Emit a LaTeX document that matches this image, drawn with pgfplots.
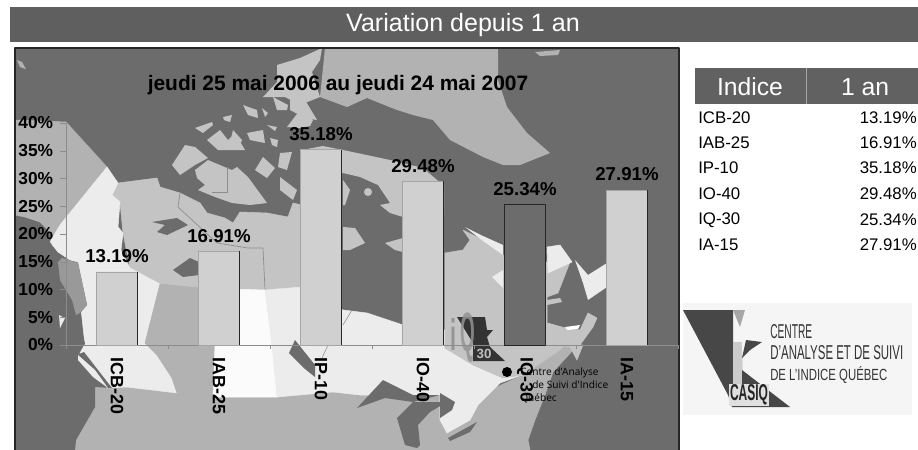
\documentclass[border=0pt]{standalone}
\usepackage{pgfplots}
\pgfplotsset{compat=1.18}
\usepackage{fontspec}
\setmainfont{Liberation Sans}
\newfontfamily\opens{Open Sans}
\definecolor{ocean}{HTML}{6C6C6C}
\definecolor{usa}{HTML}{B2B2B2}
\definecolor{north}{HTML}{C4C4C4}
\definecolor{pale}{HTML}{ECECEC}
\definecolor{snow}{HTML}{FBFBFB}
\definecolor{band}{HTML}{5F5F5F}
\definecolor{barl}{HTML}{D0D0D0}
\definecolor{edge}{HTML}{8C8C8C}
\begin{document}
\begin{tikzpicture}[x=0.75pt,y=-0.75pt,line join=round]
\path[use as bounding box] (0,0) rectangle (918,450);
\fill[white] (0,0) rectangle (918,450);
% title band
\fill[band] (10,7) rectangle (918,42);
\node[text=white,font=\fontsize{18.8}{20}\selectfont] at (463,25) {Variation depuis 1 an};
% map
\begin{scope}
\clip (15,48) rectangle (679,450);
\fill[ocean] (15,48) rectangle (679,450);
\begin{scope}[draw=edge,line width=0.4pt]
% USA
\filldraw[usa] (93,385)--(127,387)--(177,393)--(213,397)--(277,397)--(333,392)--(360,395)--(440,395)--(490,390)--(523,375)--(560,350)--(566,345)--(575,348)--(553,372)--(545,395)--(535,420)--(528,440)--(530,450)--(75,450)--(76,440)--(95,407)--cycle;
% Alaska
\filldraw[usa] (15,120)--(66,122)--(107,167)--(60,225)--(54,236)--(40,222)--(25,217)--(15,215)--cycle;
\fill[usa] (17,60)--(22,62)--(26,69)--(20,67)--cycle;
% northern mainland
\filldraw[north] (118,183)--(157,178)--(160,187)--(180,193)--(200,203)--(207,213)--(225,218)--(233,223)--(240,212)--(267,213)--(288,217)--(293,203)--(302,205)--(302,287)--(265,290)--(199,288)--(160,284)--(130,268)--(123,233)--(120,202)--(112,195)--cycle;
\draw[edge,line width=0.5pt] (180,193)--(178,207)--(217,243)--(248,248)--(263,248)--(265,290);
% Banks and Victoria islands
\fill[north] (172,165)--(185,145)--(195,147)--(208,158)--(195,165)--(180,175)--cycle;
\fill[north] (195,170)--(208,160)--(227,168)--(232,170)--(237,167)--(248,177)--(267,203)--(250,205)--(232,203)--(215,197)--(198,190)--(205,185)--(197,178)--cycle;
\draw[edge,line width=0.5pt] (227,167)--(227,192)--(212,192);
% Arctic archipelago
\fill[north] (263,157)--(275,168)--(267,178)--(255,170)--cycle;
\fill[north] (280,153)--(292,152)--(287,170)--(278,167)--cycle;
\fill[north] (280,177)--(297,190)--(293,200)--(280,190)--cycle;
\fill[north] (195,128)--(212,122)--(213,125)--(203,133)--cycle;
\fill[north] (207,140)--(220,130)--(228,140)--(235,133)--(245,150)--(218,150)--cycle;
\fill[north] (233,130)--(242,140)--(240,145)--(230,143)--cycle;
\fill[north] (247,133)--(263,130)--(265,143)--(250,140)--cycle;
\fill[north] (270,138)--(278,140)--(277,147)--(272,145)--cycle;
\fill[north] (223,117)--(232,115)--(230,122)--(224,120)--cycle;
\fill[north] (243,105)--(257,110)--(258,118)--(248,115)--cycle;
\fill[north] (262,108)--(268,113)--(265,117)--cycle;
\fill[north] (267,125)--(277,127)--(275,131)--cycle;
\fill[north] (273,97)--(288,105)--(287,110)--(277,110)--cycle;
\fill[north] (287,127)--(300,110)--(313,120)--(310,126)--(300,128)--cycle;
\fill[north] (290,97)--(305,100)--(317,120)--(305,118)--(290,110)--cycle;
% Ellesmere
\fill[north] (277,65)--(300,58)--(322,48)--(320,60)--(312,72)--(320,97)--(300,105)--(285,97)--(263,97)--(277,82)--cycle;
% Baffin and neighbours
\fill[north] (302,150)--(323,146)--(343,150)--(390,160)--(423,168)--(437,180)--(444,185)--(444,215)--(403,217)--(390,213)--(380,205)--(390,203)--(378,185)--(360,177)--(343,173)--(320,175)--cycle;
\fill[north] (343,227)--(355,228)--(365,243)--(350,250)--(343,250)--cycle;
\fill[north] (403,238)--(385,243)--(395,250)--(403,252)--cycle;
\fill[north] (343,180)--(350,190)--(345,205)--(343,205)--cycle;
\fill[north] (368,192) circle (4);
% Greenland
\fill[usa] (325,48)--(498,48)--(498,80)--(507,107)--(527,133)--(550,153)--(520,165)--(503,165)--(483,157)--(450,140)--(433,120)--(413,115)--(397,110)--(367,98)--(347,107)--(320,97)--cycle;
\fill[usa] (535,52)--(560,50)--(558,55)--(540,56)--cycle;
% Yukon
\filldraw[pale] (107,167)--(118,183)--(112,195)--(120,202)--(118,227)--(123,233)--(121,250)--(130,268)--(100,268)--(58,252)--(50,242)--(60,225)--cycle;
% BC
\filldraw[pale] (58,252)--(100,268)--(130,268)--(160,284)--(145,343)--(157,355)--(172,378)--(177,393)--(127,387)--(107,388)--(100,375)--(78,352)--(85,345)--(80,300)--(78,262)--(70,260)--cycle;
% Alberta
\filldraw[usa] (160,284)--(199,288)--(215,345)--(213,397)--(177,393)--(172,378)--(157,355)--(145,343)--cycle;
% Saskatchewan
\filldraw[snow] (199,288)--(265,290)--(272,345)--(277,397)--(213,397)--(215,345)--cycle;
% Manitoba & Ontario
\filldraw[pale] (265,290)--(302,287)--(343,310)--(367,313)--(403,325)--(445,330)--(445,348)--(473,365)--(503,378)--(522,375)--(500,383)--(478,405)--(470,420)--(447,433)--(440,420)--(440,395)--(360,395)--(333,392)--(277,397)--(272,345)--cycle;
\draw (328,345)--(322,358);
\draw (343,325)--(352,310);
% Quebec
\filldraw[north] (445,253)--(463,250)--(470,240)--(463,230)--(483,240)--(503,255)--(547,262)--(570,262)--(558,293)--(547,297)--(547,323)--(565,328)--(565,345)--(560,350)--(523,375)--(503,378)--(473,365)--(445,348)--cycle;
\fill[pale] (465,227)--(483,236)--(503,245)--(503,255)--(483,241)--cycle;
\fill[pale] (492,277)--(503,270)--(503,288)--cycle;
% Labrador
\filldraw[pale] (547,247)--(560,245)--(572,262)--(548,273)--cycle;
% Anticosti
\fill[north] (547,300)--(560,298)--(562,302)--(547,305)--cycle;
% Newfoundland
\fill[pale] (575,260)--(588,275)--(607,263)--(607,287)--(588,300)--(583,283)--cycle;
% Maritimes
\filldraw[north] (547,323)--(565,328)--(580,330)--(588,313)--(597,318)--(593,327)--(580,345)--(583,345)--(577,360)--(570,347)--(557,345)--(547,345)--cycle;
\fill[white] (565,327)--(580,325)--(578,329)--(567,330)--cycle;
\end{scope}
% lakes
\fill[ocean] (152,222)--(177,218)--(188,225)--(167,235)--(157,232)--(165,225)--cycle;
\fill[ocean] (173,270)--(190,258)--(199,262)--(199,275)--(183,277)--cycle;
\fill[ocean] (289,353)--(295,340)--(315,365)--(315,377)--(305,369)--cycle;
\fill[ocean] (357,408)--(383,380)--(413,395)--(440,395)--(413,402)--(385,398)--cycle;
\fill[ocean] (397,418)--(413,402)--(447,402)--(430,412)--(418,425)--(420,445)--(417,448)--(405,445)--cycle;
\fill[ocean] (440,393)--(455,402)--(452,410)--(440,418)--cycle;
\fill[ocean] (448,438)--(477,422)--(470,432)--(450,441)--cycle;
% west coast
\fill[ocean] (15,217)--(28,220)--(50,242)--(58,257)--(78,263)--(87,305)--(80,313)--(78,323)--(85,343)--(79,354)--(84,352)--(112,388)--(95,387)--(95,407)--(76,440)--(75,450)--(15,450)--cycle;
\fill[black!40] (58,262)--(62,258)--(78,263)--(87,305)--(80,313)--(76,315)--(72,300)--(60,280)--cycle;
\fill[pale] (78,355)--(95,370)--(108,388)--(93,377)--(78,360)--cycle;
\fill[pale] (59,315)--(65,318)--(60,328)--cycle;
% small logo on the map
\node[text=gray!90,opacity=.85] at (453,334) {\resizebox{4.5pt}{24pt}{\bfseries i}};
\fill[black!80] (457,317)--(485,317)--(487,330)--(493,330)--(487,337)--(490,347)--(505,361)--(473,361)--(473,343)--cycle;
\node[text=gray!85,opacity=.85] at (468,338) {\resizebox{11pt}{29pt}{\bfseries Q}};
\node[text=black!25,font=\bfseries\fontsize{10}{10}\selectfont] at (484,354) {30};
\fill[black] (507,372) circle (5);
\node[anchor=west,inner sep=0pt,font=\opens\fontsize{7.6}{8}\selectfont] at (520,373) {Centre d'Analyse};
\node[anchor=west,inner sep=0pt,font=\opens\fontsize{7.6}{8}\selectfont] at (532,385) {de Suivi d'Indice};
\node[anchor=west,inner sep=0pt,font=\opens\fontsize{7.6}{8}\selectfont] at (520,398) {Québec};
\end{scope}
\draw[black!85,line width=1.1pt] (15,450)--(15,48)--(679,48)--(679,450);
% chart
\begin{axis}[
  at={(49.5pt,-258.75pt)},anchor=south west,
  scale only axis,width=459pt,height=166.5pt,
  xmin=-0.5,xmax=5.5,ymin=0,ymax=40,
  clip=false,
  axis lines*=left,
  axis line style={draw=edge,-},
  xtick={0,1,2,3,4,5},
  xticklabels={ICB-20,IAB-25,IP-10,IO-40,IQ-30,IA-15},
  minor xtick={-0.5,0.5,1.5,2.5,3.5,4.5,5.5},
  major x tick style={draw=none},
  minor tick length=3pt,
  minor tick style={draw=edge},
  ytick={0,5,...,40},
  yticklabel={\pgfmathprintnumber{\tick}\%},
  y tick style={draw=edge},
  tick align=outside,
  major tick length=4.5pt,
  /pgf/number format/assume math mode=true,
  tick label style={font=\bfseries\fontsize{13}{13}\selectfont,text=black},
  xticklabel style={font=\bfseries\fontsize{13.4}{13}\selectfont,rotate=-90,anchor=west,inner sep=0pt,xshift=5pt},
  yticklabel style={inner sep=0pt,xshift=-5pt},
  lab/.style={nodes near coords={\pgfmathprintnumber[fixed,fixed zerofill,precision=2]{\pgfplotspointmeta}\%},
    every node near coord/.append style={font=\bfseries\fontsize{14}{14}\selectfont,text=black,inner sep=0pt,yshift=6.5pt}},
]
\addplot[ybar,bar width=0.4,bar shift=0,fill=barl,draw=black!35,lab] coordinates {(0,13.19) (1,16.91) (2,35.18) (3,29.48) (5,27.91)};
\addplot[ybar,bar width=0.4,bar shift=0,fill=ocean,draw=black!85,lab] coordinates {(4,25.34)};
\addplot[ycomb,black!85,line width=0.9pt,mark=none] coordinates {(0.2,13.19) (1.2,16.91) (2.2,35.18) (3.2,29.48) (5.2,27.91)};
\end{axis}
\node[font=\bfseries\fontsize{15.7}{16}\selectfont] at (338,85) {jeudi 25 mai 2006 au jeudi 24 mai 2007};
% table
\fill[ocean!90!black] (695,68) rectangle (918,104);
\draw[gray!70,line width=0.7pt] (806,68)--(806,104);
\node[text=white,font=\fontsize{18.5}{20}\selectfont] at (750,87) {Indice};
\node[text=white,font=\fontsize{18.5}{20}\selectfont] at (865,87) {1 an};
\foreach \n/\v/\y in {ICB-20/13.19/118,IAB-25/16.91/143,IP-10/35.18/168,IO-40/29.48/194,IQ-30/25.34/220,IA-15/27.91/245}{
  \node[anchor=west,inner sep=0pt,font=\fontsize{12.6}{13}\selectfont] at (698,\y) {\n};
  \node[anchor=east,inner sep=0pt,font=\fontsize{12.6}{13}\selectfont] at (917,\y) {\v\%};
}
% logo
\fill[black!4] (683,303) rectangle (912,415);
\fill[black!72] (683,310)--(733,310)--(733,345)--(742,355)--(742,370)--(790,407)--(732,407)--(728,395)--cycle;
\fill[black!20] (733,342) rectangle (742,405);
\fill[black!35] (733,310)--(745,310)--(740,327)--cycle;
\fill[black!72] (746,340)--(762,342)--(750,350)--(742,358)--cycle;
\node[fill=black!12,inner sep=0.5pt,text=black!85] at (749,395) {\resizebox{28.5pt}{12pt}{\bfseries CASIQ}};
\node[anchor=west,inner sep=0pt,text=black!80] at (770,332) {\resizebox{31.5pt}{10.5pt}{CENTRE}};
\node[anchor=west,inner sep=0pt,text=black!80] at (770,353) {\resizebox{99.75pt}{10.5pt}{D'ANALYSE ET DE SUIVI}};
\node[anchor=west,inner sep=0pt,text=black!80] at (770,375) {\resizebox{87.75pt}{10.5pt}{DE L'INDICE QUÉBEC}};
\end{tikzpicture}
\end{document}
